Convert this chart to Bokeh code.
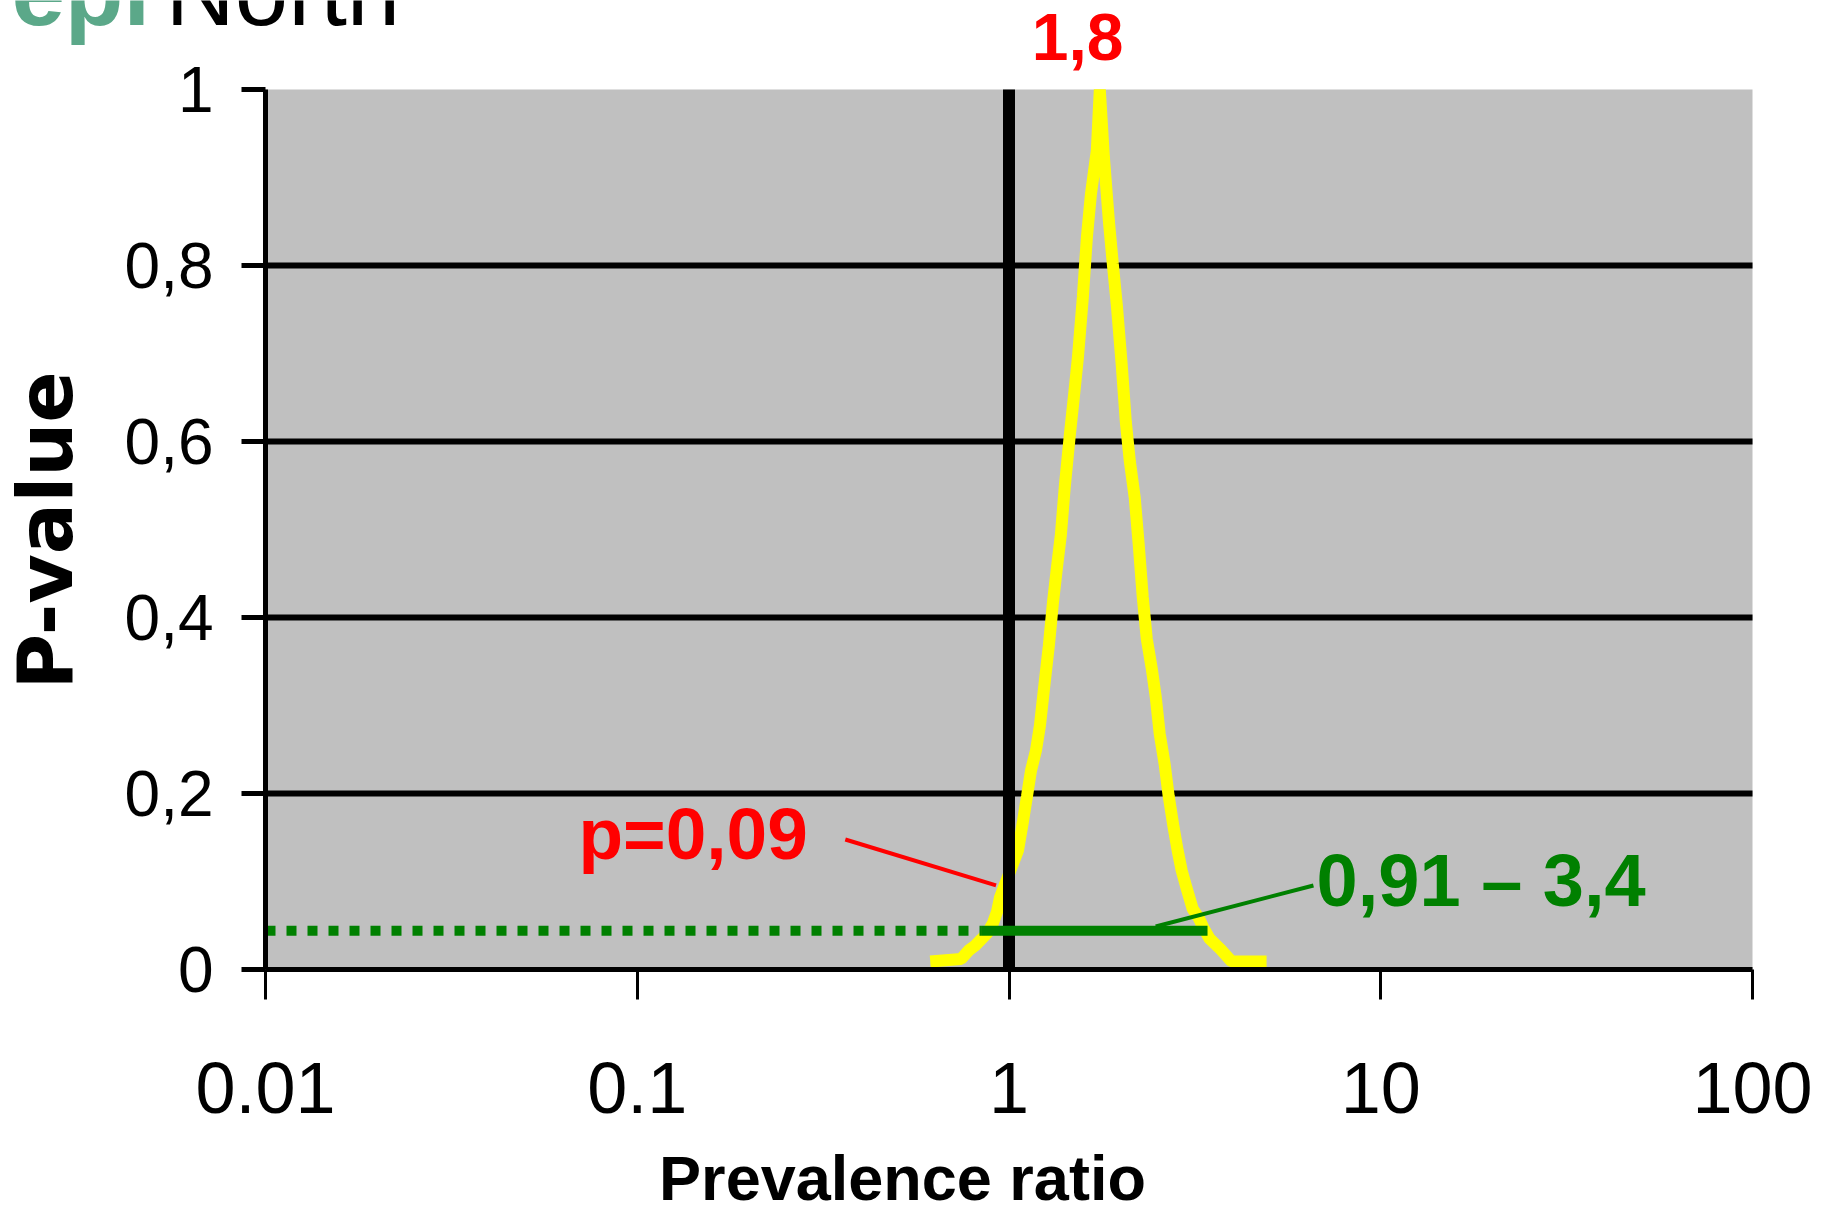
import math
from bokeh.plotting import figure
from bokeh.models import FixedTicker, CustomJSTickFormatter, Label, Range1d
from bokeh.embed import file_html
from bokeh.resources import INLINE

# ---- data ----
# p-value function (prevalence ratio -> p-value)
pr_curve = [0.614, 0.743, 0.781, 0.810, 0.841, 0.873, 0.906, 0.929, 0.946,
            1.057, 1.090, 1.118, 1.146, 1.182, 1.211, 1.242, 1.280, 1.313,
            1.345, 1.379, 1.413, 1.458, 1.494, 1.532, 1.580, 1.620, 1.661,
            1.723, 1.755,
            1.800, 1.856, 1.902, 1.950, 2.011, 2.062, 2.113, 2.179, 2.234,
            2.290, 2.347, 2.421, 2.481, 2.543, 2.623, 2.689, 2.773, 2.843,
            2.914, 3.006, 3.119, 3.236, 3.338, 3.464, 3.708, 3.970, 4.930]
pv_curve = [0.009, 0.012, 0.022, 0.027, 0.034, 0.041, 0.053, 0.066, 0.082,
            0.135, 0.168, 0.197, 0.226, 0.249, 0.277, 0.319, 0.368, 0.417,
            0.456, 0.494, 0.549, 0.608, 0.650, 0.695, 0.764, 0.832, 0.881,
            0.931, 1.000,
            0.923, 0.851, 0.802, 0.755, 0.686, 0.622, 0.578, 0.536, 0.482,
            0.423, 0.376, 0.342, 0.310, 0.268, 0.233, 0.197, 0.161, 0.135,
            0.1125, 0.092, 0.069, 0.059, 0.047, 0.035, 0.023, 0.009, 0.009]

# confidence interval bar and its p-level
ci_low = 0.841
ci_high = 3.42
ci_level = 0.044
dotted_start = 0.01

# null value line
null_x = [1.0]

# plotting area (grey) extent
area_x = [0.01, 100]
area_y = [0, 1]

# annotations
peak_label = "1,8"
peak_label_x = 1.53
peak_label_y = 1.0597
p_label = "p=0,09"
p_label_x = 0.0695
p_label_y = 0.1551
p_leader_x = [0.3628, 0.9228]
p_leader_y = [0.1477, 0.0955]
ci_label = "0,91 \u2013 3,4"
ci_label_x = 6.72
ci_label_y = 0.1006
ci_leader_x = [2.481, 6.59]
ci_leader_y = [0.0489, 0.0955]

# axes
x_ticks = [0.01, 0.1, 1, 10, 100]
x_tick_labels = ["0.01", "0.1", "1", "10", "100"]
y_ticks = [0, 0.2, 0.4, 0.6, 0.8, 1.0]
y_tick_labels = ["0", "0,2", "0,4", "0,6", "0,8", "1"]
grid_values = [0.2, 0.4, 0.6, 0.8]
x_title = "Prevalence ratio"
y_title = "P-value"

GREY = "#C0C0C0"
YELLOW = "#FFFF00"
GREEN = "#008000"
RED = "#FF0000"

# page geometry (pixels): plot area spans x 265..1752, y 89..969 of a 1822x1215 page
W, H = 1822, 1215
AL, AR, AT, AB = 265, 1752, 89, 969
dec = (AR - AL) / 4.0
x_lo = 10 ** (-2 - AL / dec)
x_hi = 10 ** (2 + (W - AR) / dec)
ppu = AB - AT
y_lo = -(H - AB) / ppu
y_hi = 1 + AT / ppu

p = figure(width=W, height=H, x_axis_type="log",
           x_range=Range1d(x_lo, x_hi), y_range=Range1d(y_lo, y_hi),
           output_backend="svg", toolbar_location=None,
           min_border=0, min_border_left=0, min_border_right=0,
           min_border_top=0, min_border_bottom=0,
           background_fill_color="white", border_fill_color="white",
           outline_line_color=None)

fmt_code = """
const i = vals.findIndex(v => Math.abs(v - tick) <= 1e-9 * Math.max(1, Math.abs(v)));
return i >= 0 ? labs[i] : '';
"""

# x axis (fixed at p = 0)
xa = p.xaxis[0]
xa.fixed_location = 0
xa.bounds = (area_x[0], area_x[1])
xa.ticker = FixedTicker(ticks=x_ticks, minor_ticks=[])
xa.formatter = CustomJSTickFormatter(args=dict(vals=x_ticks, labs=x_tick_labels), code=fmt_code)
xa.axis_line_width = 5
xa.axis_line_color = "black"
xa.major_tick_in = 0
xa.major_tick_out = 30
xa.major_tick_line_width = 3
xa.minor_tick_line_color = None
xa.major_label_standoff = 63
xa.major_label_text_font = "Liberation Sans"
xa.major_label_text_font_size = "72px"
xa.major_label_text_color = "black"

# y axis (fixed at ratio = 0.01)
ya = p.yaxis[0]
ya.fixed_location = area_x[0]
ya.bounds = (area_y[0], area_y[1])
ya.ticker = FixedTicker(ticks=y_ticks, minor_ticks=[])
ya.formatter = CustomJSTickFormatter(args=dict(vals=y_ticks, labs=y_tick_labels), code=fmt_code)
ya.axis_line_width = 5
ya.axis_line_color = "black"
ya.major_tick_in = 0
ya.major_tick_out = 24
ya.major_tick_line_width = 5
ya.minor_tick_line_color = None
ya.major_label_standoff = 28
ya.major_label_text_font = "Liberation Sans"
ya.major_label_text_font_size = "64px"
ya.major_label_text_color = "black"

p.xgrid.visible = False
p.ygrid.visible = False

# grey plotting area
p.quad(left=[area_x[0]], right=[area_x[1]], bottom=[area_y[0]], top=[area_y[1]],
       fill_color=GREY, line_color=None)

# horizontal grid lines
p.segment(x0=[area_x[0]] * len(grid_values), y0=grid_values,
          x1=[area_x[1]] * len(grid_values), y1=grid_values,
          line_color="black", line_width=6)

# p-value curve
p.line(pr_curve, pv_curve, line_color=YELLOW, line_width=12, line_join="bevel")

# null line at 1
p.segment(x0=null_x, y0=[area_y[0]], x1=null_x, y1=[area_y[1]], line_color="black", line_width=12)

# CI: dotted part and solid part
p.line([dotted_start, ci_low], [ci_level, ci_level], line_color=GREEN, line_width=10,
       line_dash="10 11")
p.line([ci_low, ci_high], [ci_level, ci_level], line_color=GREEN, line_width=10)

# leaders
p.line(ci_leader_x, ci_leader_y, line_color=GREEN, line_width=4)
p.line(p_leader_x, p_leader_y, line_color=RED, line_width=4)

def lab(x, y, text, color, size, align="left", font="Liberation Sans", style="bold", angle=0.0):
    p.add_layout(Label(x=x, y=y, text=text, text_color=color, text_font=font,
                       text_font_style=style, text_font_size=size, angle=angle,
                       text_align=align, text_baseline="middle"))

lab(peak_label_x, peak_label_y, peak_label, RED, "66px", align="center")
lab(p_label_x, p_label_y, p_label, RED, "73px")
lab(ci_label_x, ci_label_y, ci_label, GREEN, "74px")

# axis titles
lab(0.517, -0.2369, x_title, "black", "63px", align="center")
lab(0.002552, 0.499, y_title, "black", "76px", align="center", font="DejaVu Sans", angle=math.pi / 2)

# logo (cut off at the top of the page, as in the original)
lab(0.002073, 1.1114, "epi", "#5BA889", "96px")
lab(0.005383, 1.1114, "North", "black", "96px", style="normal")

open("out.html", "w").write(file_html(p, INLINE))
